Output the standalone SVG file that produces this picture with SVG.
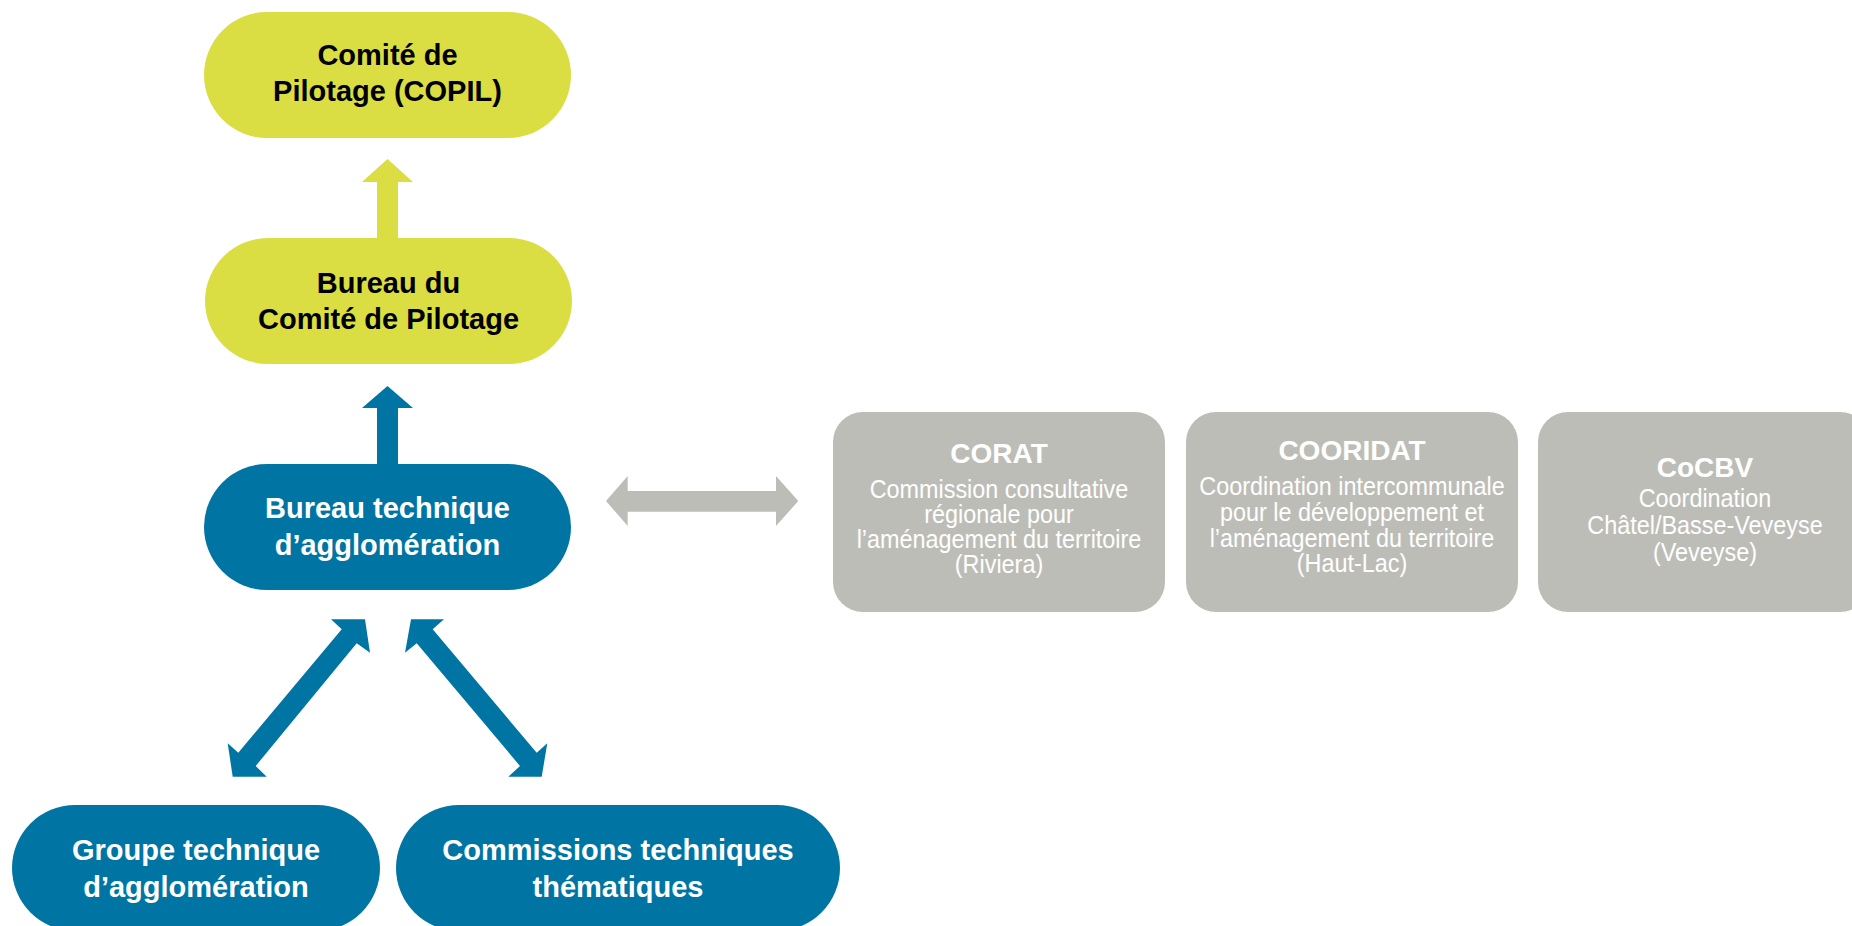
<svg xmlns="http://www.w3.org/2000/svg" width="1852" height="926" viewBox="0 0 1852 926">
<style>
.yel{fill:#DADE42}
.blu{fill:#0075A3}
.gry{fill:#BDBDB8}
.t{font-family:"Liberation Sans",Arial,sans-serif;font-weight:bold;font-size:29px;text-anchor:middle}
.tk{fill:#000}
.tw{fill:#fff}
.gt{font-family:"Liberation Sans",Arial,sans-serif;font-weight:bold;font-size:28px;text-anchor:middle;fill:#fff}
.gs{font-family:"Liberation Sans",Arial,sans-serif;font-size:26px;text-anchor:middle;fill:#fff}
</style>
<rect width="1852" height="926" fill="#fff"/>
<g id="connectors">
<polygon class="yel" points="387.5,159 413,182 398,182 398,239 377,239 377,182 362,182"/>
<polygon class="blu" points="387.5,386 413,408 398,408 398,465 377,465 377,408 362,408"/>
<polygon class="blu" points="331,619.3 365,619.3 370,652.7 356.7,643.3 255.7,766 266.7,776.7 232.7,776.7 227.7,743.3 238.3,752.7 341.7,629.3"/>
<polygon class="blu" points="444,619.3 411,619.3 405,652.7 416.7,643.3 520,766 508.3,776.7 541.7,776.7 547.3,743.3 536.7,752.7 432.7,629.3"/>
<polygon class="gry" points="606,501 627.7,476 627.7,491 776,491 776,476 798.3,501 776,526 776,511.7 627.7,511.7 627.7,526"/>
</g>
<g id="copil">
<rect class="yel" x="204" y="12" width="367" height="126" rx="63"/>
<text class="t tk" x="387.5" y="65">Comité de</text>
<text class="t tk" x="387.5" y="101">Pilotage (COPIL)</text>
</g>
<g id="bureau-copil">
<rect class="yel" x="205" y="238" width="367" height="126" rx="63"/>
<text class="t tk" x="388.5" y="293">Bureau du</text>
<text class="t tk" x="388.5" y="329">Comité de Pilotage</text>
</g>
<g id="bureau-technique">
<rect class="blu" x="204" y="464" width="367" height="126" rx="63"/>
<text class="t tw" x="387.5" y="518">Bureau technique</text>
<text class="t tw" x="387.5" y="555">d’agglomération</text>
</g>
<g id="groupe-technique">
<rect class="blu" x="12" y="805" width="368" height="126" rx="63"/>
<text class="t tw" x="196" y="860">Groupe technique</text>
<text class="t tw" x="196" y="897">d’agglomération</text>
</g>
<g id="commissions-techniques">
<rect class="blu" x="396" y="805" width="444" height="126" rx="63"/>
<text class="t tw" x="618" y="860">Commissions techniques</text>
<text class="t tw" x="618" y="897">thématiques</text>
</g>
<g id="corat">
<rect class="gry" x="833" y="412" width="332" height="200" rx="30"/>
<text class="gt" x="999" y="463">CORAT</text>
<g transform="translate(999,0) scale(0.9,1)">
<text class="gs" x="0" y="498">Commission consultative</text>
<text class="gs" x="0" y="523">régionale pour</text>
<text class="gs" x="0" y="548">l’aménagement du territoire</text>
<text class="gs" x="0" y="573">(Riviera)</text>
</g>
</g>
<g id="cooridat">
<rect class="gry" x="1186" y="412" width="332" height="200" rx="30"/>
<text class="gt" x="1352" y="460">COORIDAT</text>
<g transform="translate(1352,0) scale(0.9,1)">
<text class="gs" x="0" y="495">Coordination intercommunale</text>
<text class="gs" x="0" y="521">pour le développement et</text>
<text class="gs" x="0" y="547">l’aménagement du territoire</text>
<text class="gs" x="0" y="572">(Haut-Lac)</text>
</g>
</g>
<g id="cocbv">
<rect class="gry" x="1538" y="412" width="332" height="200" rx="30"/>
<text class="gt" x="1705" y="477">CoCBV</text>
<g transform="translate(1705,0) scale(0.9,1)">
<text class="gs" x="0" y="507">Coordination</text>
<text class="gs" x="0" y="534">Châtel/Basse-Veveyse</text>
<text class="gs" x="0" y="561">(Veveyse)</text>
</g>
</g>
</svg>
